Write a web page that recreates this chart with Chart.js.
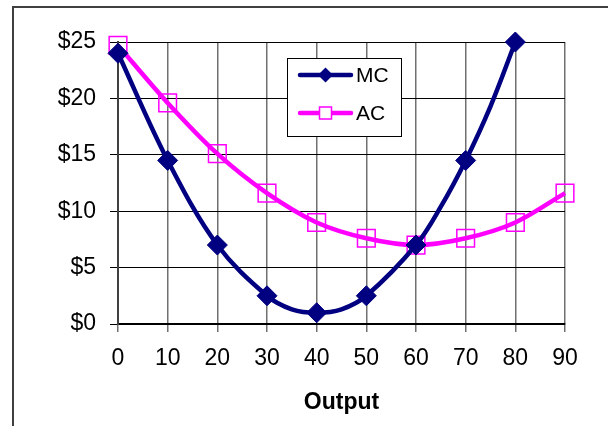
<!DOCTYPE html>
<html lang="en">
<head>
    <meta charset="UTF-8">
    <title>MC and AC</title>
    <script src="https://cdn.jsdelivr.net/npm/chart.js@4"></script>
    <style>
        body { margin: 0; background: #fff; }
        #wrap { width: 608px; height: 426px; }
    </style>
</head>
<body>
    <div id="wrap">
        <canvas id="costChart" width="608" height="426"></canvas>
    </div>

    <script>
        // values
        const xTicks = [0, 10, 20, 30, 40, 50, 60, 70, 80, 90];
        const yTicks = [0, 5, 10, 15, 20, 25];

        // MC has a few unmarked points between the markers (35, 45, 65, 75)
        const mcOutput = [0, 10, 20, 30, 35, 40, 45, 50, 60, 65, 70, 75, 80];
        const mcCost = [24, 14.5, 7, 2.5, 1.3, 1, 1.3, 2.5, 7, 10.4, 14.5, 19.3, 25];

        const acOutput = [0, 10, 20, 30, 40, 50, 60, 70, 80, 90];
        const acCost = [24.7, 19.6, 15.1, 11.6, 9, 7.6, 7, 7.6, 9, 11.6];

        const FONT = "'Liberation Sans', Arial, sans-serif";

        // frame around the whole chart (only top and left show in the picture)
        const framePlugin = {
            id: 'frame',
            beforeDraw(chart) {
                const c = chart.ctx;
                c.save();
                c.fillStyle = '#fff';
                c.fillRect(0, 0, chart.width, chart.height);
                c.strokeStyle = '#404040';
                c.lineWidth = 2;
                c.beginPath();
                c.moveTo(13, chart.height + 5);
                c.lineTo(13, 7);
                c.lineTo(chart.width + 5, 7);
                c.stroke();
                c.restore();
            }
        };

        // legend box inside the plot
        const legendBox = {
            id: 'legendBox',
            afterDraw(chart) {
                const c = chart.ctx;
                const box = { x: 287.5, y: 58.5, w: 114, h: 78 };
                c.save();
                c.fillStyle = '#fff';
                c.fillRect(box.x, box.y, box.w, box.h);
                c.strokeStyle = '#000';
                c.lineWidth = 1;
                c.strokeRect(box.x, box.y, box.w, box.h);

                chart.data.datasets.forEach((ds, i) => {
                    const y = 75 + i * 38;
                    c.strokeStyle = ds.borderColor;
                    c.lineWidth = 4.5;
                    c.lineCap = 'round';
                    c.beginPath();
                    c.moveTo(300, y);
                    c.lineTo(351, y);
                    c.stroke();

                    c.lineWidth = 1.5;
                    c.beginPath();
                    if (ds.pointStyle === 'rectRot') {
                        c.fillStyle = ds.pointBackgroundColor;
                        c.moveTo(325.5, y - 7.5);
                        c.lineTo(333, y);
                        c.lineTo(325.5, y + 7.5);
                        c.lineTo(318, y);
                        c.closePath();
                        c.fill();
                    } else {
                        c.fillStyle = '#fff';
                        c.rect(319.5, y - 6, 12, 12);
                        c.fill();
                        c.strokeStyle = ds.pointBorderColor;
                        c.stroke();
                    }

                    c.fillStyle = '#000';
                    c.font = '21px ' + FONT;
                    c.textAlign = 'left';
                    c.textBaseline = 'middle';
                    c.fillText(ds.label, 356, y + 1);
                });
                c.restore();
            }
        };

        const isMarked = v => v % 10 === 0;

        const ctx = document.getElementById('costChart').getContext('2d');
        new Chart(ctx, {
            type: 'line',
            data: {
                datasets: [{
                    label: 'MC',
                    data: mcOutput.map((q, i) => ({ x: q, y: mcCost[i] })),
                    borderColor: '#000080',
                    backgroundColor: '#000080',
                    pointBackgroundColor: '#000080',
                    pointBorderColor: '#000080',
                    borderWidth: 4.5,
                    pointStyle: 'rectRot',
                    pointRadius: mcOutput.map(q => isMarked(q) ? 10 : 0),
                    pointBorderWidth: 1,
                    tension: 0.35,
                    clip: 12
                }, {
                    label: 'AC',
                    data: acOutput.map((q, i) => ({ x: q, y: acCost[i] })),
                    borderColor: '#ff00ff',
                    backgroundColor: 'rgba(0,0,0,0)',
                    pointBackgroundColor: 'rgba(0,0,0,0)',
                    pointBorderColor: '#ff00ff',
                    borderWidth: 4.5,
                    pointStyle: 'rect',
                    pointRadius: 12.5,
                    pointBorderWidth: 1.5,
                    tension: 0.3,
                    clip: 14
                }]
            },
            options: {
                responsive: false,
                animation: false,
                events: [],
                layout: { padding: { top: 42, right: 43, left: 0, bottom: 0 } },
                plugins: {
                    legend: { display: false },
                    tooltip: { enabled: false }
                },
                scales: {
                    x: {
                        type: 'linear',
                        min: 0,
                        max: 90,
                        afterBuildTicks: scale => { scale.ticks = xTicks.map(v => ({ value: v })); },
                        afterFit: scale => { scale.height = 102; },
                        grid: { color: '#707070', lineWidth: 1.5, tickLength: 8 },
                        border: { color: '#000', width: 1.5 },
                        ticks: {
                            color: '#000',
                            font: { family: FONT, size: 23 },
                            padding: 13,
                            maxRotation: 0,
                            autoSkip: false
                        },
                        title: {
                            display: true,
                            text: 'Output',
                            color: '#000',
                            font: { family: FONT, size: 23, weight: 'bold' },
                            padding: { top: 4, bottom: 10 }
                        }
                    },
                    y: {
                        min: 0,
                        max: 25,
                        afterBuildTicks: scale => { scale.ticks = yTicks.map(v => ({ value: v })); },
                        afterFit: scale => { scale.width = 118; },
                        grid: { color: '#000', lineWidth: 1, tickLength: 8 },
                        border: { color: '#404040', width: 2 },
                        ticks: {
                            color: '#000',
                            font: { family: FONT, size: 23 },
                            padding: 14,
                            callback: v => '$' + v
                        }
                    }
                }
            },
            plugins: [framePlugin, legendBox]
        });
    </script>
</body>
</html>
